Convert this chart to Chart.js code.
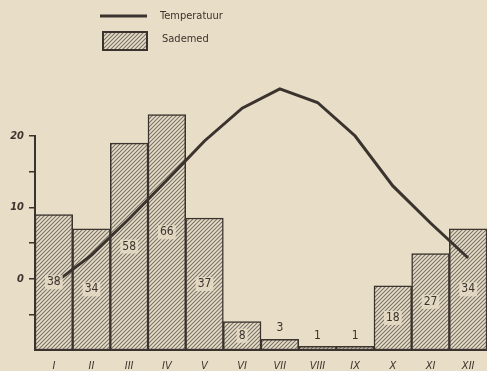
<!DOCTYPE html>
<html>
<head>
<meta charset="utf-8">
<script src="https://cdn.jsdelivr.net/npm/chart.js@4.4.1/dist/chart.umd.min.js"></script>
<style>
    html, body { margin: 0; padding: 0; background: #e8ddc6; }
    #wrap { width: 487px; height: 371px; position: relative; }
</style>
</head>
<body>
<div id="wrap"><canvas id="climateChart"></canvas></div>
<script>
// Monthly climate data: temperature (°C) and precipitation (mm)
const months = ['I', 'II', 'III', 'IV', 'V', 'VI', 'VII', 'VIII', 'IX', 'X', 'XI', 'XII'];
const rainfall = [38, 34, 58, 66, 37, 8, 3, 1, 1, 18, 27, 34];
const temperature = [-0.7, 3.3, 8.4, 13.8, 19.3, 23.9, 26.6, 24.7, 20.0, 13.0, 7.8, 2.9];
const tempLabels = [20, 10, 0];
const seriesNames = ['Temperatuur', 'Sademed'];

const paper = '#e8ddc6';
const ink = '#3a332e';
const hatchInk = '#7a7268';
const fontFamily = '"DejaVu Sans Condensed", "Liberation Sans Narrow", sans-serif';

// temperature axis runs -10..20, rain axis 0..60 (2 mm per degree)
const tempMin = -10, tempMax = 20;

function makeHatch() {
    const c = document.createElement('canvas');
    c.width = 4; c.height = 4;
    const g = c.getContext('2d');
    g.fillStyle = paper;
    g.fillRect(0, 0, 4, 4);
    g.strokeStyle = hatchInk;
    g.lineWidth = 1.1;
    g.beginPath();
    g.moveTo(0, 4); g.lineTo(4, 0);
    g.moveTo(-1, 1); g.lineTo(1, -1);
    g.moveTo(3, 5); g.lineTo(5, 3);
    g.stroke();
    return g.createPattern(c, 'repeat');
}
const hatch = makeHatch();

const paperBg = {
    id: 'paperBg',
    beforeDraw(chart) {
        const ctx = chart.ctx;
        ctx.save();
        ctx.fillStyle = paper;
        ctx.fillRect(0, 0, chart.width, chart.height);
        ctx.restore();
    }
};

// precipitation numbers inside (or above) each bar
const barLabels = {
    id: 'barLabels',
    afterDatasetsDraw(chart) {
        const meta = chart.getDatasetMeta(1);
        const ctx = chart.ctx;
        ctx.save();
        ctx.font = '12px ' + fontFamily;
        ctx.textAlign = 'center';
        ctx.textBaseline = 'middle';
        meta.data.forEach((bar, i) => {
            const text = String(rainfall[i]);
            const h = bar.base - bar.y;
            if (h > 20) {
                const y = (bar.y + bar.base) / 2;
                const w = ctx.measureText(text).width + 4;
                ctx.fillStyle = 'rgba(232, 221, 198, 0.85)';
                ctx.fillRect(bar.x - w / 2, y - 7, w, 14);
                ctx.fillStyle = ink;
                ctx.fillText(text, bar.x, y);
            } else {
                ctx.fillStyle = ink;
                ctx.fillText(text, bar.x, bar.y - 11);
            }
        });
        ctx.restore();
    }
};

// two-row legend in the top left corner
const sideLegend = {
    id: 'sideLegend',
    afterDraw(chart) {
        const ctx = chart.ctx;
        ctx.save();
        ctx.strokeStyle = ink;
        ctx.lineWidth = 3;
        ctx.beginPath();
        ctx.moveTo(100, 16);
        ctx.lineTo(147, 16);
        ctx.stroke();

        ctx.fillStyle = hatch;
        ctx.fillRect(103, 32, 44, 18);
        ctx.lineWidth = 2;
        ctx.strokeRect(103, 32, 44, 18);

        ctx.fillStyle = ink;
        ctx.font = '11px ' + fontFamily;
        ctx.textAlign = 'left';
        ctx.textBaseline = 'middle';
        ctx.fillText(chart.data.datasets[0].label, 160, 16);
        ctx.fillText(chart.data.datasets[1].label, 162, 39);
        ctx.restore();
    }
};

new Chart(document.getElementById('climateChart'), {
    data: {
        labels: months,
        datasets: [
            {
                type: 'line',
                label: seriesNames[0],
                data: temperature,
                yAxisID: 'y',
                borderColor: ink,
                borderWidth: 3,
                pointRadius: 0,
                tension: 0,
                clip: false,
                order: 0
            },
            {
                type: 'bar',
                label: seriesNames[1],
                data: rainfall,
                yAxisID: 'y1',
                backgroundColor: hatch,
                borderColor: ink,
                borderWidth: 1.5,
                borderSkipped: false,
                categoryPercentage: 1,
                barPercentage: 1,
                clip: false,
                order: 1
            }
        ]
    },
    options: {
        responsive: true,
        maintainAspectRatio: false,
        animation: false,
        layout: { padding: { top: 136, right: 0, left: 0, bottom: 0 } },
        plugins: {
            legend: { display: false },
            tooltip: { enabled: false }
        },
        scales: {
            x: {
                grid: { display: false, drawTicks: false },
                border: { display: true, color: ink, width: 2 },
                ticks: {
                    color: ink,
                    padding: 10,
                    font: { family: fontFamily, size: 11, style: 'italic' }
                },
                afterFit(scale) { scale.height = 21; }
            },
            y: {
                position: 'left',
                min: tempMin,
                max: tempMax,
                ticks: {
                    stepSize: 5,
                    color: ink,
                    padding: 5,
                    font: { family: fontFamily, size: 11, style: 'italic', weight: 'bold' },
                    callback: v => tempLabels.includes(v) ? String(v) : ''
                },
                grid: {
                    drawOnChartArea: false,
                    drawTicks: true,
                    tickLength: 6,
                    lineWidth: 1.5,
                    color: c => (c.tick && c.tick.value === tempMin) ? 'rgba(0,0,0,0)' : ink
                },
                border: { color: ink, width: 2 },
                afterFit(scale) { scale.width = 35; }
            },
            y1: {
                display: false,
                min: 0,
                max: (tempMax - tempMin) * 2
            }
        }
    },
    plugins: [paperBg, barLabels, sideLegend]
});
</script>
</body>
</html>
